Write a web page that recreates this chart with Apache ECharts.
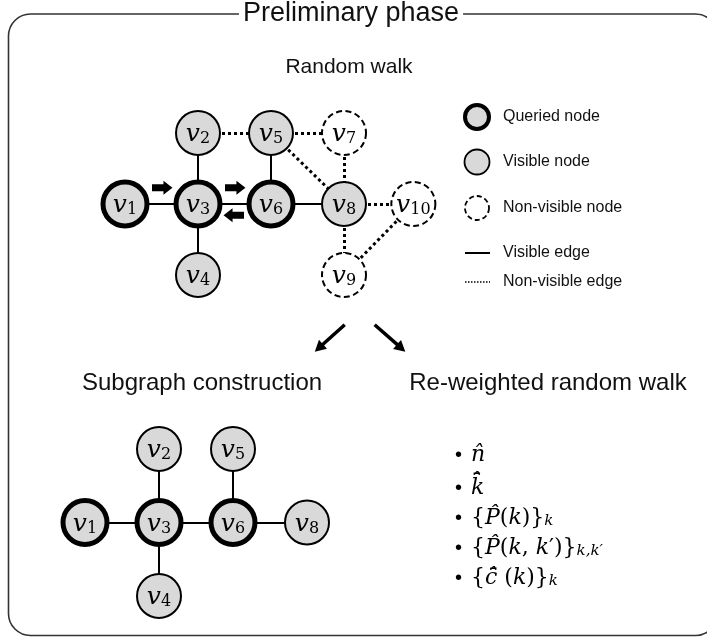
<!DOCTYPE html>
<html>
<head>
<meta charset="utf-8">
<script src="https://cdn.jsdelivr.net/npm/echarts@6/dist/echarts.min.js"></script>
<style>html,body{margin:0;padding:0;background:#fff}#c{width:707px;height:637px}</style>
</head>
<body>
<div id="c"></div>
<script>
// ---------- data ----------
// Random walk graph (column / row positions in diagram units)
const topNodeNames = ['v1','v2','v3','v4','v5','v6','v7','v8','v9','v10'];
const topNodeCols  = [0, 1, 1, 1, 2, 2, 3, 3, 3, 3.95];
const topNodeRows  = [1, 0, 1, 2, 0, 1, 0, 1, 2, 1];
const topNodeKinds = ['queried','visible','queried','visible','visible','queried','hidden','visible','hidden','hidden'];
const topEdges = [
  ['v1','v3','visible'], ['v3','v6','visible'], ['v6','v8','visible'],
  ['v2','v3','visible'], ['v3','v4','visible'], ['v5','v6','visible'],
  ['v2','v5','hidden'], ['v5','v7','hidden'], ['v5','v8','hidden'],
  ['v7','v8','hidden'], ['v8','v10','hidden'], ['v8','v9','hidden'], ['v9','v10','hidden']
];
// Subgraph construction graph
const subNodeNames = ['v1','v2','v3','v4','v5','v6','v8'];
const subNodeCols  = [0, 1, 1, 1, 2, 2, 3];
const subNodeRows  = [1, 0, 1, 2, 0, 1, 1];
const subNodeKinds = ['queried','visible','queried','visible','visible','queried','visible'];
const subEdges = [['v1','v3'], ['v3','v6'], ['v6','v8'], ['v2','v3'], ['v3','v4'], ['v5','v6']];
// Walk-direction arrows and section arrows: [fromCol, fromRow, toCol, toRow, kind]
const walkArrows = [
  [0.37, 0.77, 0.65, 0.77, 0],
  [1.37, 0.77, 1.65, 0.77, 0],
  [1.63, 1.16, 1.35, 1.16, 0],
  [3.01, 2.70, 2.60, 3.08, 1],
  [3.42, 2.70, 3.84, 3.08, 1]
];
const legendLabels = ['Queried node','Visible node','Non-visible node','Visible edge','Non-visible edge'];
const titleText = 'Preliminary phase';
const sectionTitles = ['Random walk','Subgraph construction','Re-weighted random walk'];

// ---------- styling ----------
const SANS = '"Liberation Sans", Arial, sans-serif';
const MATH = '"DejaVu Serif", serif';
const GRAY = '#d9d9d9';
function nodeStyle(kind) {
  if (kind === 'queried') return {symbolSize: 44, itemStyle: {color: GRAY, borderColor: '#000', borderWidth: 5}};
  if (kind === 'visible') return {symbolSize: 44, itemStyle: {color: GRAY, borderColor: '#000', borderWidth: 2}};
  return {symbolSize: 44, itemStyle: {color: '#fff', borderColor: '#000', borderWidth: 2, borderType: [6, 3.5]}};
}
function buildNodes(names, cols, rows, kinds) {
  return names.map((n, i) => Object.assign({name: n, value: [cols[i], rows[i]]}, nodeStyle(kinds[i])));
}
const solidEdge = {color: '#000', width: 2, type: 'solid', curveness: 0, opacity: 1};
const dotEdge = {color: '#000', width: 3, type: [3, 3], curveness: 0, opacity: 1};
const nodeLabel = {
  show: true, position: 'inside',
  formatter: p => '{v|v}{s|' + p.name.slice(1) + '}',
  rich: {
    v: {fontFamily: MATH, fontStyle: 'italic', fontSize: 25, color: '#000', lineHeight: 28, verticalAlign: 'bottom'},
    s: {fontFamily: MATH, fontSize: 16, color: '#000', lineHeight: 18, verticalAlign: 'bottom'}
  }
};

function arrowItem(params, api) {
  const p1 = api.coord([api.value(0), api.value(1)]);
  const p2 = api.coord([api.value(2), api.value(3)]);
  const kind = api.value(4);
  const w = kind === 0 ? 7 : 3.5, hw = kind === 0 ? 14 : 12, hl = kind === 0 ? 9 : 11;
  const dx = p2[0] - p1[0], dy = p2[1] - p1[1];
  const len = Math.sqrt(dx * dx + dy * dy);
  const ux = dx / len, uy = dy / len, nx = -uy, ny = ux;
  const bx = p2[0] - ux * hl, by = p2[1] - uy * hl;
  const pts = [
    [p1[0] + nx * w / 2, p1[1] + ny * w / 2],
    [bx + nx * w / 2, by + ny * w / 2],
    [bx + nx * hw / 2, by + ny * hw / 2],
    [p2[0], p2[1]],
    [bx - nx * hw / 2, by - ny * hw / 2],
    [bx - nx * w / 2, by - ny * w / 2],
    [p1[0] - nx * w / 2, p1[1] - ny * w / 2]
  ];
  return {type: 'polygon', shape: {points: pts}, style: {fill: '#000'}};
}

// ---------- bullets (rich text) ----------
const bulletRich = {
  b: {fontFamily: SANS, fontSize: 20, color: '#000', padding: [0, 9, 0, 0]},
  i: {fontFamily: MATH, fontStyle: 'italic', fontSize: 22, color: '#000'},
  r: {fontFamily: MATH, fontSize: 22, color: '#000'},
  s: {fontFamily: MATH, fontStyle: 'italic', fontSize: 15, color: '#000', verticalAlign: 'bottom', lineHeight: 14}
};
const bulletLines = [
  '{b|•}{i|n\u0302}',
  '{b|•}{i|k\u0304\u0302}',
  '{b|•}{r|{}{i|P\u0302}{r|(}{i|k}{r|)}}{s|k}',
  '{b|•}{r|{}{i|P\u0302}{r|(}{i|k}{r|, }{i|k}{r|\u2032)}}{s|k,k\u2032}',
  '{b|•}{r|{}{i|c\u0304\u0302}{r| (}{i|k}{r|)}}{s|k}'
];

const chart = echarts.init(document.getElementById('c'), null, {renderer: 'canvas'});

const graphics = [
  {type: 'rect', shape: {x: 8.5, y: 14, width: 709, height: 621.5, r: 22}, style: {fill: 'none', stroke: '#333', lineWidth: 1.6}, z: 1},
  {type: 'text', x: 351, y: 14, style: {text: titleText, font: '27px ' + SANS, fill: '#111', align: 'center', verticalAlign: 'middle', backgroundColor: '#fff', padding: [0, 4]}, z: 2},
  {type: 'text', x: 349, y: 67, style: {text: sectionTitles[0], font: '21px ' + SANS, fill: '#111', align: 'center', verticalAlign: 'middle'}},
  {type: 'text', x: 202, y: 383, style: {text: sectionTitles[1], font: '24px ' + SANS, fill: '#111', align: 'center', verticalAlign: 'middle'}},
  {type: 'text', x: 548, y: 383, style: {text: sectionTitles[2], font: '24px ' + SANS, fill: '#111', align: 'center', verticalAlign: 'middle'}},
  // legend
  {type: 'circle', shape: {cx: 477, cy: 117, r: 12}, style: {fill: GRAY, stroke: '#000', lineWidth: 4}},
  {type: 'circle', shape: {cx: 477, cy: 162, r: 12.5}, style: {fill: GRAY, stroke: '#000', lineWidth: 1.8}},
  {type: 'circle', shape: {cx: 477, cy: 208, r: 12}, style: {fill: '#fff', stroke: '#000', lineWidth: 1.8, lineDash: [5, 3]}},
  {type: 'line', shape: {x1: 465, y1: 253, x2: 490, y2: 253}, style: {stroke: '#000', lineWidth: 2}},
  {type: 'line', shape: {x1: 465, y1: 282, x2: 490, y2: 282}, style: {stroke: '#000', lineWidth: 1.5, lineDash: [1.5, 1.5]}}
];
const legendYs = [117, 162, 208, 253, 282];
legendLabels.forEach((t, i) => graphics.push({type: 'text', x: 503, y: legendYs[i], style: {text: t, font: '16px ' + SANS, fill: '#111', align: 'left', verticalAlign: 'middle'}}));
const bulletYs = [455, 488, 518, 548, 578];
bulletLines.forEach((t, i) => graphics.push({type: 'text', x: 455, y: bulletYs[i], style: {text: t, rich: bulletRich, font: '22px ' + MATH, fill: '#000', align: 'left', verticalAlign: 'middle'}}));

chart.setOption({
  animation: false,
  backgroundColor: '#fff',
  grid: [
    {left: 125, top: 133, width: 292, height: 142},
    {left: 85, top: 449, width: 222, height: 147}
  ],
  xAxis: [
    {type: 'value', gridIndex: 0, min: 0, max: 4, show: false},
    {type: 'value', gridIndex: 1, min: 0, max: 3, show: false}
  ],
  yAxis: [
    {type: 'value', gridIndex: 0, min: 0, max: 2, inverse: true, show: false},
    {type: 'value', gridIndex: 1, min: 0, max: 2, inverse: true, show: false}
  ],
  graphic: graphics,
  series: [
    {
      type: 'graph', coordinateSystem: 'cartesian2d', xAxisIndex: 0, yAxisIndex: 0,
      symbol: 'circle', label: nodeLabel, silent: true, z: 3,
      lineStyle: {opacity: 1},
      data: buildNodes(topNodeNames, topNodeCols, topNodeRows, topNodeKinds),
      links: topEdges.map(e => ({source: e[0], target: e[1], lineStyle: e[2] === 'visible' ? solidEdge : dotEdge}))
    },
    {
      type: 'graph', coordinateSystem: 'cartesian2d', xAxisIndex: 1, yAxisIndex: 1,
      symbol: 'circle', label: nodeLabel, silent: true, z: 3,
      lineStyle: {opacity: 1},
      data: buildNodes(subNodeNames, subNodeCols, subNodeRows, subNodeKinds),
      links: subEdges.map(e => ({source: e[0], target: e[1], lineStyle: solidEdge}))
    },
    {
      type: 'custom', xAxisIndex: 0, yAxisIndex: 0, clip: false, silent: true, z: 4,
      renderItem: arrowItem,
      encode: {x: [0, 2], y: [1, 3]},
      data: walkArrows
    }
  ]
});
</script>
</body>
</html>
